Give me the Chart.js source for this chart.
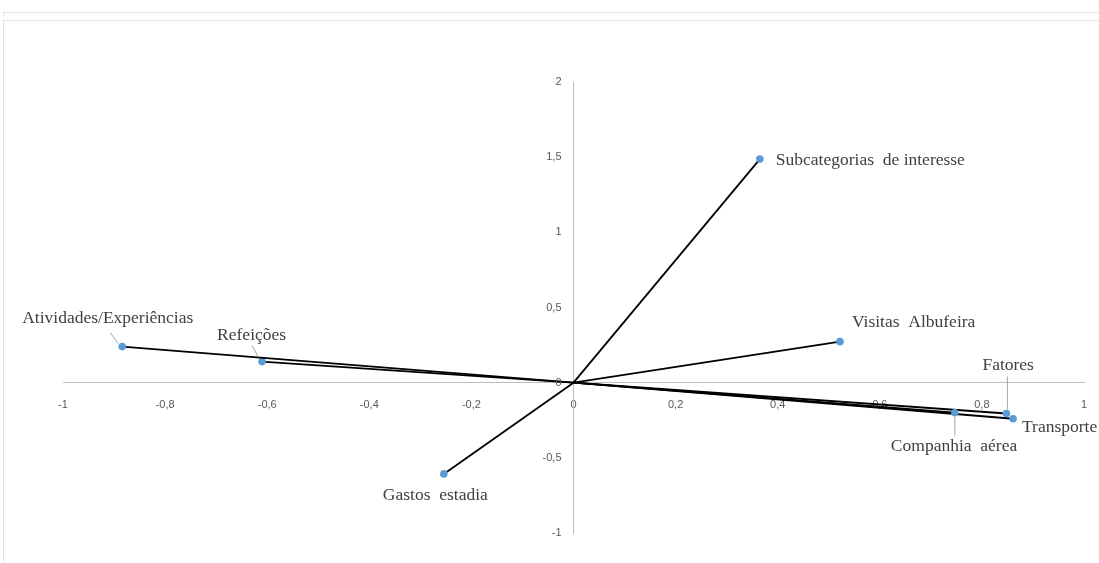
<!DOCTYPE html>
<html>
<head>
<meta charset="utf-8">
<script src="https://cdn.jsdelivr.net/npm/chart.js@4"></script>
<style>
  html, body { margin: 0; padding: 0; background: #fff; }
  #wrap { position: relative; width: 1099px; height: 563px; overflow: hidden; }
  #topLine { position: absolute; left: 3px; top: 12px; width: 1096px; height: 4px; border-top: 1px solid #e2e2e2; border-left: 1px solid #e2e2e2; }
  #frame { position: absolute; left: 3px; top: 20px; width: 1100px; height: 560px; border-top: 1px solid #e2e2e2; border-left: 1px solid #e2e2e2; }
  canvas { position: absolute; left: 0; top: 0; }
</style>
</head>
<body>
<div id="wrap">
  <div id="topLine"></div>
  <div id="frame"></div>
  <canvas id="biplot" width="1099" height="563"></canvas>
</div>
<script>
// Dados
const labels = ["Atividades/Experiências", "Refeições", "Subcategorias  de interesse", "Visitas  Albufeira", "Gastos  estadia", "Companhia  aérea", "Fatores", "Transporte"];
const xValues = [-0.884, -0.610, 0.365, 0.522, -0.254, 0.747, 0.848, 0.861];
const yValues = [0.240, 0.140, 1.487, 0.273, -0.607, -0.200, -0.205, -0.240];
const xTicks = [-1, -0.8, -0.6, -0.4, -0.2, 0, 0.2, 0.4, 0.6, 0.8, 1];
const yTicks = [-1, -0.5, 0, 0.5, 1, 1.5, 2];

// Posição dos rótulos em relação ao ponto (px) e linhas de chamada
const labelStyle = [
  { dx: -100, dy: -28, leader: [-12, -14, -4, -3] },
  { dx: -45, dy: -26, leader: [-10, -16, -4, -5] },
  { dx: 16, dy: 1 },
  { dx: 12, dy: -19 },
  { dx: -61, dy: 21 },
  { dx: -64, dy: 34, leader: [0, 4, 0, 23] },
  { dx: -24, dy: -48, leader: [1, -37, 1, -4] },
  { dx: 9, dy: 9 },
];

const fmt = (v) => (Math.round(v * 10) / 10).toString().replace(".", ",");
const tickFont = "11px 'Liberation Sans'";

const datasets = labels.map((name, i) => ({
  label: name,
  data: [{ x: 0, y: 0 }, { x: xValues[i], y: yValues[i] }],
  showLine: true,
  borderColor: "#000000",
  borderWidth: 1.8,
  pointRadius: [0, 3.8],
  pointBackgroundColor: "#5b9bd5",
  pointBorderColor: "#5b9bd5",
  pointBorderWidth: 0,
}));

// Rótulos do eixo y (à esquerda do eixo central) e rótulos dos pontos
const pointLabels = {
  id: "pointLabels",
  afterDatasetsDraw(chart) {
    const ctx = chart.ctx;
    const sx = chart.scales.x;
    const sy = chart.scales.y;
    ctx.save();
    const axisX = sx.getPixelForValue(0);
    ctx.fillStyle = "#595959";
    ctx.font = tickFont;
    ctx.textAlign = "right";
    ctx.textBaseline = "middle";
    yTicks.forEach((v) => {
      ctx.fillText(fmt(v), axisX - 12, sy.getPixelForValue(v));
    });
    labels.forEach((name, i) => {
      const px = sx.getPixelForValue(xValues[i]);
      const py = sy.getPixelForValue(yValues[i]);
      const st = labelStyle[i];
      if (st.leader) {
        ctx.strokeStyle = "#a6a6a6";
        ctx.lineWidth = 1;
        ctx.beginPath();
        ctx.moveTo(px + st.leader[0], py + st.leader[1]);
        ctx.lineTo(px + st.leader[2], py + st.leader[3]);
        ctx.stroke();
      }
      ctx.fillStyle = "#404040";
      ctx.font = "17.5px 'Liberation Serif'";
      ctx.textAlign = "left";
      ctx.textBaseline = "middle";
      ctx.fillText(name, px + st.dx, py + st.dy);
    });
    ctx.restore();
  },
};

new Chart(document.getElementById("biplot").getContext("2d"), {
  type: "scatter",
  data: { datasets },
  options: {
    responsive: false,
    animation: false,
    layout: { padding: { left: 63, right: 15, top: 82, bottom: 30 } },
    plugins: { legend: { display: false }, tooltip: { enabled: false } },
    scales: {
      x: {
        type: "linear",
        min: -1,
        max: 1,
        position: { y: 0 },
        afterFit: (s) => { s.height = 0; s.paddingLeft = 0; s.paddingRight = 0; },
        afterBuildTicks: (s) => { s.ticks = xTicks.map((v) => ({ value: v })); },
        grid: { display: false, drawTicks: false },
        border: { color: "#bfbfbf", width: 1 },
        ticks: { padding: 16, color: "#595959", font: { family: "Liberation Sans", size: 11 }, callback: fmt },
      },
      y: {
        type: "linear",
        min: -1,
        max: 2,
        position: { x: 0 },
        afterFit: (s) => { s.width = 0; s.paddingTop = 0; s.paddingBottom = 0; },
        afterBuildTicks: (s) => { s.ticks = yTicks.map((v) => ({ value: v })); },
        grid: { display: false, drawTicks: false },
        border: { color: "#bfbfbf", width: 1 },
        ticks: { display: false },
      },
    },
  },
  plugins: [pointLabels],
});
</script>
</body>
</html>
